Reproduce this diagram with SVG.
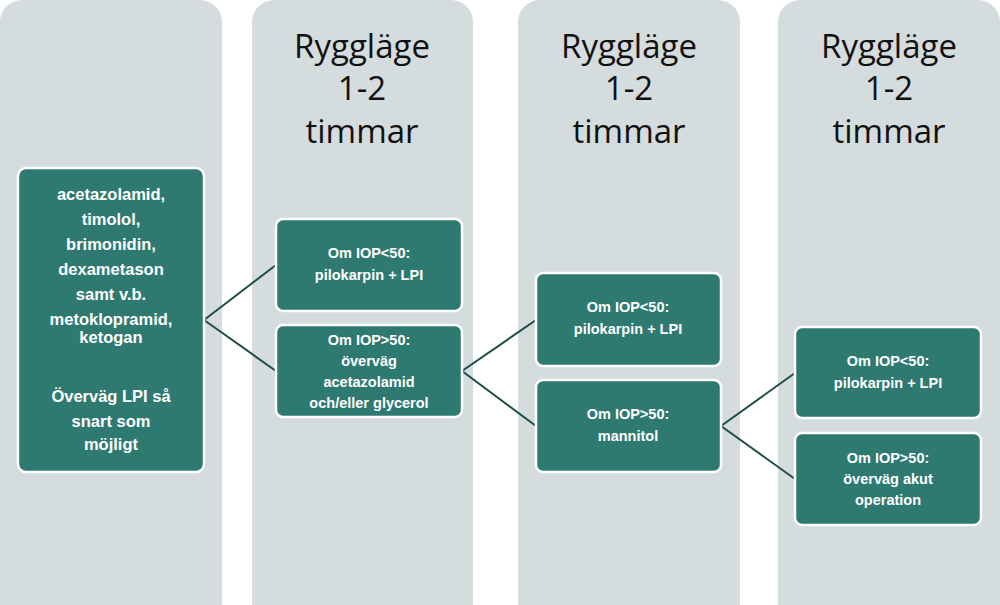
<svg xmlns="http://www.w3.org/2000/svg" width="1000" height="605" viewBox="0 0 1000 605">
<style>
.col{fill:#d5dcdd}
.node{fill:#2e7a71;stroke:#fff;stroke-width:2.5}
.t{font-family:"Liberation Sans",Arial,sans-serif;font-weight:bold;fill:#fff;text-anchor:middle}
.s{font-size:14.5px}
.m{font-size:16.5px}
.h{font-family:"Open Sans","Liberation Sans",sans-serif;font-size:33px;fill:#111;text-anchor:middle}
.c{stroke:#1f4d48;stroke-width:2;fill:none}
</style>
<rect width="1000" height="605" fill="#fff"/>
<rect class="col" x="0" y="0" width="222" height="625" rx="22"/>
<rect class="col" x="252" y="0" width="221" height="625" rx="22"/>
<rect class="col" x="518" y="0" width="222" height="625" rx="22"/>
<rect class="col" x="778" y="0" width="222" height="625" rx="22"/>
<g id="headers">
<text class="h" x="362" y="58">Ryggläge</text><text class="h" x="362" y="100">1-2</text><text class="h" x="362" y="143">timmar</text>
<text class="h" x="629" y="58">Ryggläge</text><text class="h" x="629" y="100">1-2</text><text class="h" x="629" y="143">timmar</text>
<text class="h" x="889" y="58">Ryggläge</text><text class="h" x="889" y="100">1-2</text><text class="h" x="889" y="143">timmar</text>
</g>
<g id="connectors">
<path class="c" d="M204,320 L276,265 M204,320 L276,371"/>
<path class="c" d="M462,371 L536,320 M462,371 L536,426"/>
<path class="c" d="M721,426 L795,373 M721,426 L795,479"/>
</g>
<g id="n0"><rect class="node" x="18" y="168" width="186" height="304" rx="8"/>
<text class="t m" x="111" y="200">acetazolamid,</text><text class="t m" x="111" y="225">timolol,</text><text class="t m" x="111" y="250">brimonidin,</text><text class="t m" x="111" y="275">dexametason</text><text class="t m" x="111" y="300">samt v.b.</text><text class="t m" x="111" y="325">metoklopramid,</text><text class="t m" x="111" y="343" dy="0">ketogan</text>
<text class="t m" x="111" y="402">Överväg LPI så</text><text class="t m" x="111" y="427">snart som</text><text class="t m" x="111" y="450">möjligt</text></g>
<g id="n1"><rect class="node" x="276" y="219" width="186" height="92" rx="7"/><text class="t s" x="369" y="258">Om IOP&lt;50:</text><text class="t s" x="369" y="280">pilokarpin + LPI</text></g>
<g id="n2"><rect class="node" x="276" y="325" width="186" height="92" rx="7"/><text class="t s" x="369" y="345">Om IOP&gt;50:</text><text class="t s" x="369" y="366">överväg</text><text class="t s" x="369" y="387">acetazolamid</text><text class="t s" x="369" y="408">och/eller glycerol</text></g>
<g id="n3"><rect class="node" x="536" y="273" width="185" height="93" rx="7"/><text class="t s" x="628" y="312">Om IOP&lt;50:</text><text class="t s" x="628" y="334">pilokarpin + LPI</text></g>
<g id="n4"><rect class="node" x="536" y="380" width="185" height="92" rx="7"/><text class="t s" x="628" y="419">Om IOP&gt;50:</text><text class="t s" x="628" y="441">mannitol</text></g>
<g id="n5"><rect class="node" x="795" y="327" width="186" height="91" rx="7"/><text class="t s" x="888" y="366">Om IOP&lt;50:</text><text class="t s" x="888" y="388">pilokarpin + LPI</text></g>
<g id="n6"><rect class="node" x="795" y="433" width="186" height="92" rx="7"/><text class="t s" x="888" y="463">Om IOP&gt;50:</text><text class="t s" x="888" y="484">överväg akut</text><text class="t s" x="888" y="505">operation</text></g>
</svg>
